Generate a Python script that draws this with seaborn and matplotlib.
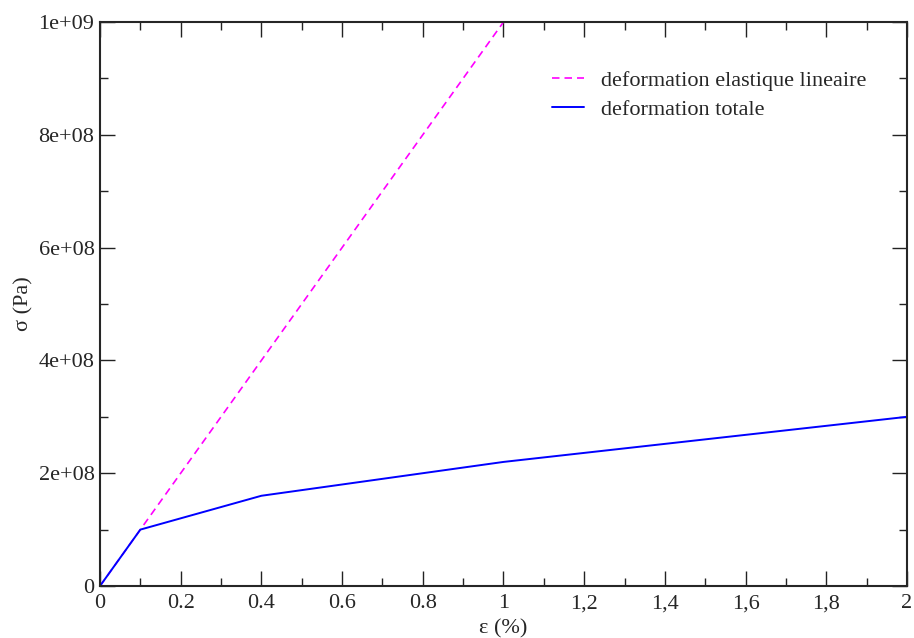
import matplotlib
matplotlib.use("Agg")
import matplotlib.pyplot as plt
import pandas as pd
import seaborn as sns
from matplotlib.ticker import MultipleLocator

# data
eps_elastic = [0.0, 1.0]
sig_elastic = [0.0, 1e9]
eps_total = [0.0, 0.1, 0.4, 1.0, 2.0]
sig_total = [0.0, 1e8, 1.6e8, 2.2e8, 3e8]

x_ticks = [0, 0.2, 0.4, 0.6, 0.8, 1, 1.2, 1.4, 1.6, 1.8, 2]
x_labels = ["0", "0.2", "0.4", "0.6", "0.8", "1", "1,2", "1,4", "1,6", "1,8", "2"]
y_ticks = [0, 2e8, 4e8, 6e8, 8e8, 1e9]
y_labels = ["0", "2e+08", "4e+08", "6e+08", "8e+08", "1e+09"]

sns.set_style("ticks")
plt.rcParams["font.family"] = ["Liberation Serif", "DejaVu Serif"]
plt.rcParams["font.size"] = 16

elastic = pd.DataFrame({"eps": eps_elastic, "sig": sig_elastic})
total = pd.DataFrame({"eps": eps_total, "sig": sig_total})

fig = plt.figure(figsize=(9.14, 6.38), dpi=100)
ax = fig.add_axes([0.1094, 0.0815, 0.8829, 0.884])

sns.lineplot(data=elastic, x="eps", y="sig", ax=ax, color="#ff00ff", lw=1.2,
             label="deformation elastique lineaire")
ax.lines[-1].set_dashes([4.5, 3])
sns.lineplot(data=total, x="eps", y="sig", ax=ax, color="#0000ff", lw=1.4,
             label="deformation totale")

ax.set_xlim(0, 2)
ax.set_ylim(0, 1e9)
ax.set_xticks(x_ticks)
ax.set_xticklabels(x_labels)
ax.set_yticks(y_ticks)
ax.set_yticklabels(y_labels)
ax.xaxis.set_minor_locator(MultipleLocator(0.1))
ax.yaxis.set_minor_locator(MultipleLocator(1e8))
ax.tick_params(which="both", direction="in", top=True, right=True, labelsize=16,
               width=1.0, color="#222222")
ax.tick_params(which="major", length=11)
ax.tick_params(which="minor", length=6)
ax.tick_params(axis="x", which="major", pad=6)
ax.tick_params(axis="y", which="major", pad=4)
for s in ax.spines.values():
    s.set_linewidth(1.5)
    s.set_visible(True)

ax.set_xlabel("ε (%)", fontsize=16, labelpad=4)
ax.set_ylabel("σ (Pa)", fontsize=16, labelpad=4)

ax.legend(loc="upper left", bbox_to_anchor=(552 / 914, 1 - 70 / 638),
          bbox_transform=fig.transFigure, frameon=False, borderpad=0,
          borderaxespad=0, fontsize=16, handlelength=1.45, handletextpad=0.75,
          labelspacing=0.4)

fig.savefig("out.png", dpi=100)
